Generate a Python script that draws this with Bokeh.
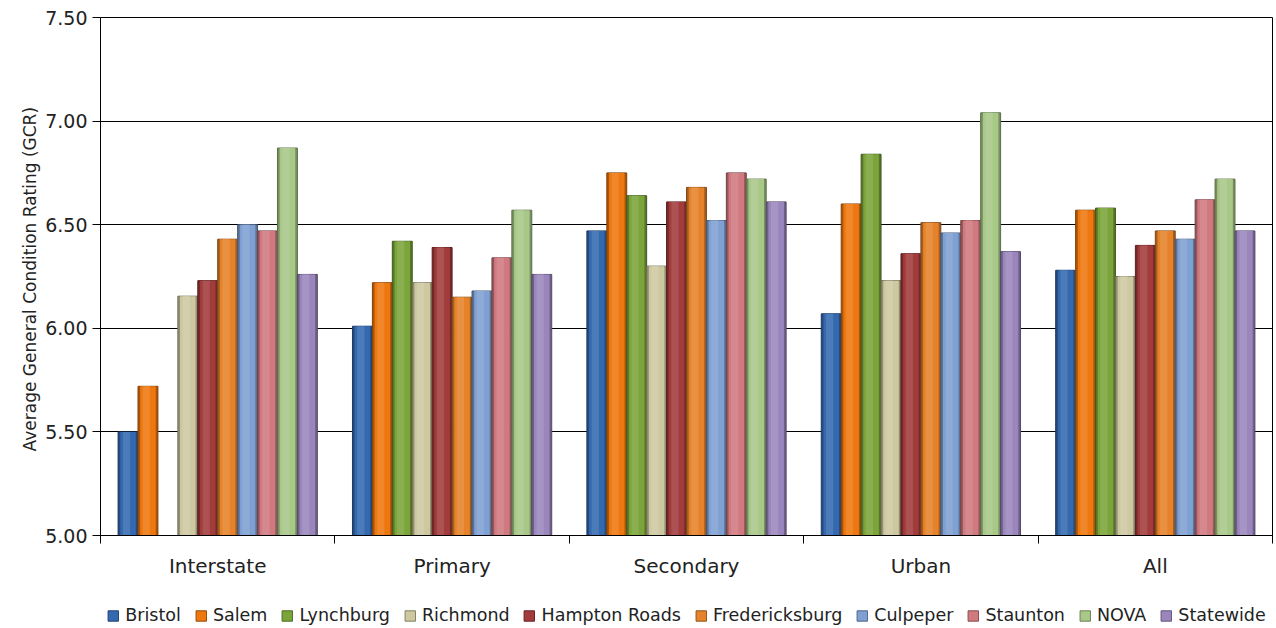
from bokeh.plotting import figure
from bokeh.models import ColumnDataSource, FixedTicker, Legend, LegendItem, Range1d, PrintfTickFormatter
from bokeh.layouts import column
from bokeh.embed import file_html
from bokeh.resources import INLINE

categories = ["Interstate", "Primary", "Secondary", "Urban", "All"]
regions = ["Bristol", "Salem", "Lynchburg", "Richmond", "Hampton Roads",
           "Fredericksburg", "Culpeper", "Staunton", "NOVA", "Statewide"]

bristol        = [5.50, 6.01, 6.47, 6.07, 6.28]
salem          = [5.72, 6.22, 6.75, 6.60, 6.57]
lynchburg      = [5.00, 6.42, 6.64, 6.84, 6.58]
richmond       = [6.155, 6.22, 6.30, 6.23, 6.25]
hampton_roads  = [6.23, 6.39, 6.61, 6.36, 6.40]
fredericksburg = [6.43, 6.15, 6.68, 6.51, 6.47]
culpeper       = [6.50, 6.18, 6.52, 6.46, 6.43]
staunton       = [6.47, 6.34, 6.75, 6.52, 6.62]
nova           = [6.87, 6.57, 6.72, 7.04, 6.72]
statewide      = [6.26, 6.26, 6.61, 6.37, 6.47]

series = [bristol, salem, lynchburg, richmond, hampton_roads,
          fredericksburg, culpeper, staunton, nova, statewide]

colors = ["#3469B0", "#EE770F", "#7BA53A", "#CEC8A0", "#A23B3B",
          "#E6832A", "#7FA0D2", "#D07A80", "#A8C888", "#9A86BC"]


def shade(hex_color, f):
    h = hex_color.lstrip("#")
    r, g, b = int(h[0:2], 16), int(h[2:4], 16), int(h[4:6], 16)
    if f < 0:
        r, g, b = [int(c * (1 + f)) for c in (r, g, b)]
    else:
        r, g, b = [int(c + (255 - c) * f) for c in (r, g, b)]
    return "#%02x%02x%02x" % (r, g, b)


FONT = "DejaVu Sans"
BASE = 5.0
TOTAL_W = 1276

p = figure(frame_width=1172, frame_height=518, output_backend="svg", toolbar_location=None,
           x_range=Range1d(0, 5), y_range=Range1d(5.0, 7.5))
p.min_border_left = 100
p.min_border_top = 17
p.min_border_right = 4
p.min_border_bottom = 67
p.outline_line_color = "#000000"
p.outline_line_width = 1
p.background_fill_color = "white"
p.border_fill_color = "white"

bar_w = 0.085
start = 0.075
srcs = []
for j, (name, vals) in enumerate(zip(regions, series)):
    xs = [i + start + bar_w * (j + 0.5) for i in range(len(categories))]
    bottoms = [BASE] * len(vals)
    src = ColumnDataSource(dict(x=xs, top=vals, bottom=bottoms))
    srcs.append(src)
    p.vbar(x="x", top="top", bottom="bottom", width=bar_w, source=src,
           fill_color=shade(colors[j], -0.28), line_color=shade(colors[j], -0.45),
           line_width=1)
    p.vbar(x="x", top="top", bottom="bottom", width=bar_w * 0.78, source=src,
           fill_color=colors[j], line_color=None)
    src2 = ColumnDataSource(dict(x=[x - bar_w * 0.08 for x in xs], top=vals, bottom=bottoms))
    p.vbar(x="x", top="top", bottom="bottom", width=bar_w * 0.36, source=src2,
           fill_color=shade(colors[j], 0.12), line_color=None)

p.xgrid.visible = False
p.ygrid.grid_line_color = "#000000"
p.ygrid.grid_line_width = 1
p.yaxis.ticker = FixedTicker(ticks=[5.0, 5.5, 6.0, 6.5, 7.0, 7.5])
p.yaxis.formatter = PrintfTickFormatter(format="%.2f")
p.yaxis.minor_tick_line_color = None
p.yaxis.major_tick_out = 8
p.yaxis.major_tick_in = 0
p.yaxis.axis_line_color = "#000000"
p.yaxis.major_tick_line_color = "#000000"
p.yaxis.major_label_text_font = FONT
p.yaxis.major_label_text_font_size = "19px"
p.yaxis.major_label_text_color = "#222222"
p.yaxis.major_label_standoff = 5
p.yaxis.axis_label = "Average General  Condition Rating (GCR)"
p.yaxis.axis_label_text_font = FONT
p.yaxis.axis_label_text_font_size = "17px"
p.yaxis.axis_label_text_font_style = "normal"
p.yaxis.axis_label_text_color = "#222222"
p.yaxis.axis_label_standoff = 2

centers = [i + 0.5 for i in range(len(categories))]
p.xaxis.ticker = FixedTicker(ticks=centers, minor_ticks=list(range(len(categories) + 1)))
p.xaxis.major_label_overrides = {c: lab for c, lab in zip(centers, categories)}
p.xaxis.major_tick_line_color = None
p.xaxis.minor_tick_out = 8
p.xaxis.minor_tick_in = 0
p.xaxis.minor_tick_line_color = "#000000"
p.xaxis.axis_line_color = "#000000"
p.xaxis.major_label_text_font = FONT
p.xaxis.major_label_text_font_size = "20px"
p.xaxis.major_label_text_color = "#222222"
p.xaxis.major_label_standoff = 10

# legend strip below the chart
lf = figure(width=TOTAL_W, height=26, output_backend="svg", toolbar_location=None,
            x_axis_type=None, y_axis_type=None,
            x_range=Range1d(100, 101), y_range=Range1d(100, 101))
lf.min_border = 0
lf.outline_line_color = None
lf.xgrid.visible = False
lf.ygrid.visible = False
items = []
for j, name in enumerate(regions):
    r = lf.vbar(x="x", top="top", bottom="bottom", width=bar_w, source=srcs[j],
                fill_color=colors[j], line_color=shade(colors[j], -0.35), line_width=1)
    items.append(LegendItem(label=name, renderers=[r]))

legend = Legend(items=items, orientation="horizontal", location="center")
legend.label_text_font = FONT
legend.label_text_font_size = "17.5px"
legend.label_text_color = "#222222"
legend.glyph_width = 13
legend.glyph_height = 13
legend.spacing = 13
legend.label_standoff = 6
legend.padding = 0
legend.margin = 0
legend.border_line_color = None
legend.background_fill_alpha = 0
lf.add_layout(legend, "center")

layout = column(p, lf, spacing=0)
open("out.html", "w").write(file_html(layout, INLINE))
